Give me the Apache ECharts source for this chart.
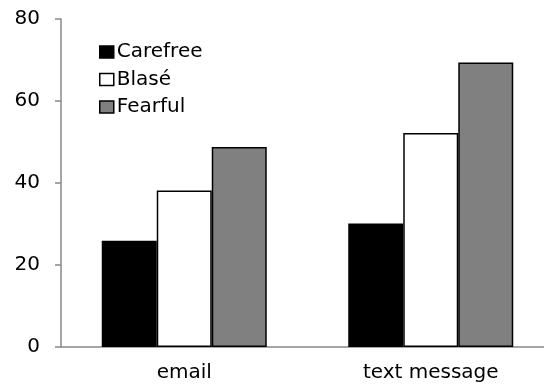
<!DOCTYPE html>
<html>
<head>
<meta charset="utf-8">
<script src="https://cdn.jsdelivr.net/npm/echarts@6/dist/echarts.min.js"></script>
<style>
  html, body { margin: 0; padding: 0; background: #fff; }
  #chart { width: 544px; height: 390px; }
</style>
</head>
<body>
<div id="chart"></div>
<script>
var categories = ['email', 'text message'];
var carefree = [25.9, 30.1];
var blase = [38.2, 52.2];
var fearful = [48.8, 69.4];
var yTicks = [0, 20, 40, 60, 80];

var font = 'DejaVu Sans';
var myChart = echarts.init(document.getElementById('chart'));

function bar(name, data, color) {
    return {
        name: name,
        type: 'bar',
        data: data,
        barWidth: 55,
        barGap: '0%',
        itemStyle: { color: color, borderColor: '#000', borderWidth: 1.5 },
        emphasis: { disabled: true }
    };
}

myChart.setOption({
    animation: false,
    backgroundColor: '#fff',
    textStyle: { fontFamily: font },
    legend: {
        left: 94,
        top: 37,
        orient: 'vertical',
        itemWidth: 14,
        itemHeight: 12,
        itemGap: 7.5,
        icon: 'rect',
        textStyle: { fontFamily: font, fontSize: 20, color: '#000', padding: [0, 0, 0, -2] },
        itemStyle: { borderColor: '#000', borderWidth: 1.5 }
    },
    grid: { left: 61, top: 19, bottom: 43, width: 493, outerBoundsMode: 'none' },
    xAxis: {
        type: 'category',
        data: categories,
        axisLine: { lineStyle: { color: '#888', width: 1.5 } },
        axisTick: { show: false },
        axisLabel: { color: '#000', fontSize: 20, fontFamily: font, margin: 16 }
    },
    yAxis: {
        type: 'value',
        min: yTicks[0],
        max: yTicks[yTicks.length - 1],
        interval: 20,
        splitLine: { show: false },
        axisLine: { show: true, lineStyle: { color: '#888', width: 1.5 } },
        axisTick: { show: true, length: 6, lineStyle: { color: '#888', width: 1.5 } },
        axisLabel: { color: '#000', fontSize: 20, fontFamily: font, margin: 21 }
    },
    series: [
        bar('Carefree', carefree, '#000'),
        bar('Blasé', blase, '#fff'),
        bar('Fearful', fearful, '#808080')
    ]
});
</script>
</body>
</html>
